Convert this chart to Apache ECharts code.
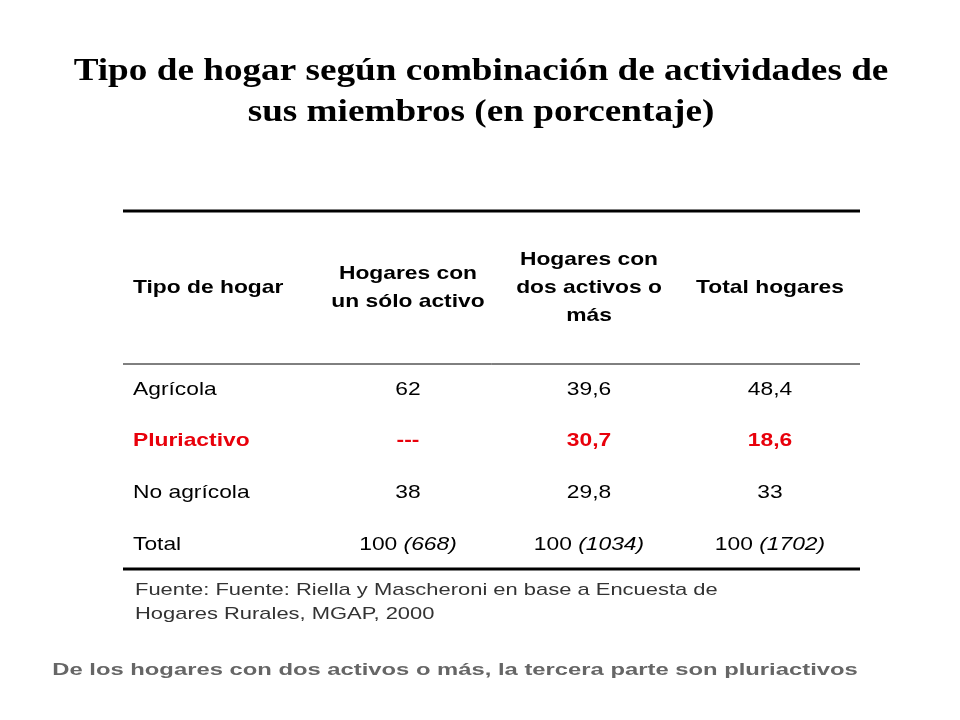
<!DOCTYPE html>
<html><head><meta charset="utf-8">
<script src="https://cdn.jsdelivr.net/npm/echarts@6/dist/echarts.min.js"></script>
<style>html,body{margin:0;padding:0;background:#fff}#c{width:960px;height:720px}</style>
</head><body><div id="c"></div>
<script>
const titleLines = ["Tipo de hogar según combinación de actividades de", "sus miembros (en porcentaje)"];
const headers = ["Hogares con\nun sólo activo", "Hogares con\ndos activos o\nmás", "Total hogares"];
const headerFirst = "Tipo de hogar";
const rowLabels = ["Agrícola", "Pluriactivo", "No agrícola", "Total"];
const colSoloActivo = ["62", "---", "38", "100"];
const colDosActivos = ["39,6", "30,7", "29,8", "100"];
const colTotal = ["48,4", "18,6", "33", "100"];
const totalCounts = ["(668)", "(1034)", "(1702)"];
const sourceLines = ["Fuente: Fuente: Riella y Mascheroni en base a Encuesta de", "Hogares Rurales, MGAP, 2000"];
const footer = "De los hogares con dos activos o más, la tercera parte son pluriactivos";

const chart = echarts.init(document.getElementById('c'));
const F = 'Liberation Sans, Arial, sans-serif';
const g = [];
titleLines.forEach((t, i) => g.push({type:'text', x:481, y:72 + i*41, scaleX:1.2, style:{text:t, font:'bold 31px "Liberation Serif", "Times New Roman", serif', fill:'#000', align:'center', verticalAlign:'middle'}}));
g.push({type:'line', shape:{x1:123,y1:211,x2:860,y2:211}, style:{stroke:'#000', lineWidth:3}});
g.push({type:'line', shape:{x1:123,y1:364,x2:860,y2:364}, style:{stroke:'#000', lineWidth:1}});
g.push({type:'line', shape:{x1:123,y1:569,x2:860,y2:569}, style:{stroke:'#000', lineWidth:3}});
const colX = [133, 408, 589, 770];
const SX = 1.2;
g.push({type:'text', x:colX[0], y:288, scaleX:SX, style:{text:headerFirst, font:'bold 19px '+F, fill:'#000', align:'left', verticalAlign:'middle'}});
headers.forEach((h, i) => g.push({type:'text', x:colX[i+1], y:288, scaleX:SX, style:{text:h, font:'bold 19px '+F, fill:'#000', align:'center', verticalAlign:'middle', lineHeight:28}}));
const cols = [colSoloActivo, colDosActivos, colTotal];
const rowY = [390, 441, 493, 545];
rowLabels.forEach((r, ri) => {
  const red = r === 'Pluriactivo';
  const fill = red ? '#e8000b' : '#000';
  const font = (red ? 'bold ' : '') + '19px ' + F;
  g.push({type:'text', x:133, y:rowY[ri], scaleX:SX, style:{text:r, font, fill, align:'left', verticalAlign:'middle'}});
  cols.forEach((c, ci) => {
    if (ri === 3) {
      g.push({type:'text', x:colX[ci+1], y:rowY[ri], scaleX:SX, style:{text:'{a|'+c[ri]+' }{b|'+totalCounts[ci]+'}', align:'center', verticalAlign:'middle', rich:{a:{font:'19px '+F, fill:'#000'}, b:{font:'italic 19px '+F, fill:'#000'}}}});
    } else {
      g.push({type:'text', x:colX[ci+1], y:rowY[ri], scaleX:SX, style:{text:c[ri], font, fill, align:'center', verticalAlign:'middle'}});
    }
  });
});
sourceLines.forEach((s, i) => g.push({type:'text', x:135, y:590 + i*24, scaleX:1.29, style:{text:s, font:'17px '+F, fill:'#333', align:'left', verticalAlign:'middle'}}));
g.push({type:'text', x:455, y:670, scaleX:1.4, style:{text:footer, font:'bold 17px '+F, fill:'#666', align:'center', verticalAlign:'middle'}});
chart.setOption({animation:false, graphic:g});
</script></body></html>
